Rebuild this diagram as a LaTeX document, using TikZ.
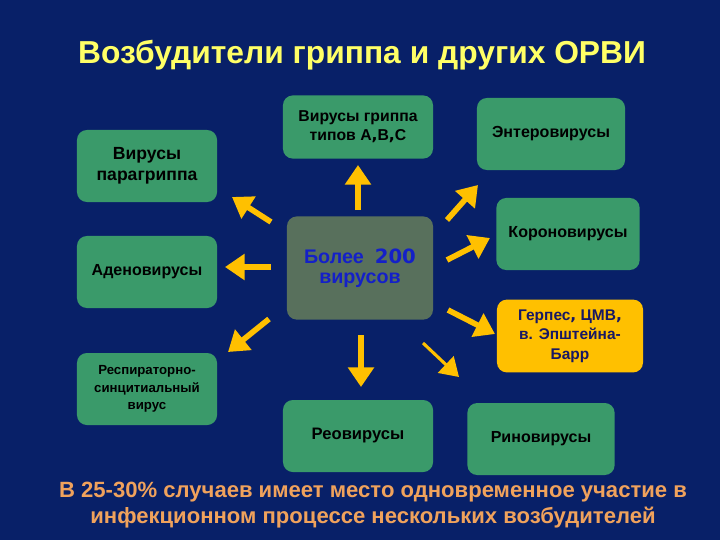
\documentclass[tikz,border=0pt]{standalone}
\usepackage{fontspec}
\setmainfont{Liberation Sans}
\newfontfamily\dejavu{DejaVu Sans}
\usetikzlibrary{arrows.meta}
\definecolor{fonsinij}{RGB}{8,32,104}
\definecolor{zelen}{RGB}{58,154,106}
\definecolor{seryj}{RGB}{88,112,92}
\definecolor{zheltyj}{RGB}{255,192,0}
\definecolor{zagolovok}{RGB}{255,255,102}
\definecolor{oranzh}{RGB}{240,162,92}
\definecolor{sinij}{RGB}{20,32,200}
\definecolor{temnyj}{RGB}{24,24,100}
\tikzset{
	virus/.style={fill=zelen, rounded corners=7pt, align=center, text=black,
		minimum width=3.65cm, minimum height=1.8cm,
		font=\bfseries\fontsize{11.4}{15}\selectfont},
	strelka/.style={draw=zheltyj, line width=4pt, -{Triangle[width=18pt,length=14pt]}},
	tonkaja/.style={draw=zheltyj, line width=2.2pt, -{Triangle[width=16pt,length=13pt]}},
}
\begin{document}
\begin{tikzpicture}[x=0.025cm, y=-0.025cm, line join=round]
	\fill[fonsinij] (0,0) rectangle (720,540);
	\useasboundingbox (0,0) rectangle (720,540);
	% zagolovok
	\node (title) at (362,55) {\color{zagolovok}\bfseries\fontsize{22.6}{26}\selectfont Возбудители гриппа и других ОРВИ};
	% centr
	\node[virus, fill=seryj, minimum width=3.65cm, minimum height=2.58cm, text=sinij,
		font=\bfseries\fontsize{14}{14.5}\selectfont] (centr) at (360,268)
		{Более \ {\dejavu 200}\\вирусов};
	% bloki
	\node[virus, minimum width=3.5cm, font=\bfseries\fontsize{12.5}{15}\selectfont] (paragripp) at (147,166) {Вирусы\\парагриппа};
	\node[virus, minimum width=3.5cm] (adeno) at (147,272) {Аденовирусы};
	\node[virus, minimum width=3.5cm, font=\bfseries\fontsize{9.4}{12.5}\selectfont] (rs) at (147,389)
		{Респираторно-\\синцитиальный\\вирус};
	\node[virus, minimum width=3.75cm, minimum height=1.58cm,
		font=\bfseries\fontsize{11.2}{13.5}\selectfont] (gripp) at (358,127) {Вирусы гриппа\\типов А{\dejavu ,}В{\dejavu ,}С};
	\node[virus, minimum width=3.7cm] (entero) at (551,134) {Энтеровирусы};
	\node[virus, minimum width=3.58cm] (korona) at (568,234) {Короновирусы};
	\node[virus, fill=zheltyj, text=temnyj, minimum width=3.65cm, minimum height=1.82cm,
		font=\bfseries\fontsize{11}{14}\selectfont] (gerpes) at (570,336)
		{Герпес{\dejavu ,} ЦМВ{\dejavu ,}\\в. Эпштейна-\\Барр};
	\node[virus, minimum width=3.75cm, font=\bfseries\fontsize{11.8}{15}\selectfont] (reo) at (358,436) {Реовирусы};
	\node[virus, minimum width=3.68cm] (rino) at (541,439) {Риновирусы};
	% strelki
	\coordinate (s1a) at (358,210); \coordinate (s1b) at (358,165);
	\coordinate (s2a) at (271,222); \coordinate (s2b) at (232,197);
	\coordinate (s3a) at (271,267); \coordinate (s3b) at (225,267);
	\coordinate (s4a) at (269,319); \coordinate (s4b) at (228,352);
	\coordinate (s5a) at (447,220); \coordinate (s5b) at (478,185);
	\coordinate (s6a) at (447,260); \coordinate (s6b) at (490,238);
	\coordinate (s7a) at (448,310); \coordinate (s7b) at (495,334);
	\coordinate (s8a) at (361,335); \coordinate (s8b) at (361,387);
	\coordinate (s9a) at (423,343); \coordinate (s9b) at (459,377);
	\foreach \n in {1,...,8}
		\draw[strelka] (s\n a) -- (s\n b);
	\draw[tonkaja] (s9a) -- (s9b);
	% podpis
	\node[align=center, text=oranzh, font=\bfseries\fontsize{15.7}{19}\selectfont] (itog) at (373,505)
		{В 25-30\% случаев имеет место одновременное участие в\\инфекционном процессе нескольких возбудителей};
\end{tikzpicture}
\end{document}
